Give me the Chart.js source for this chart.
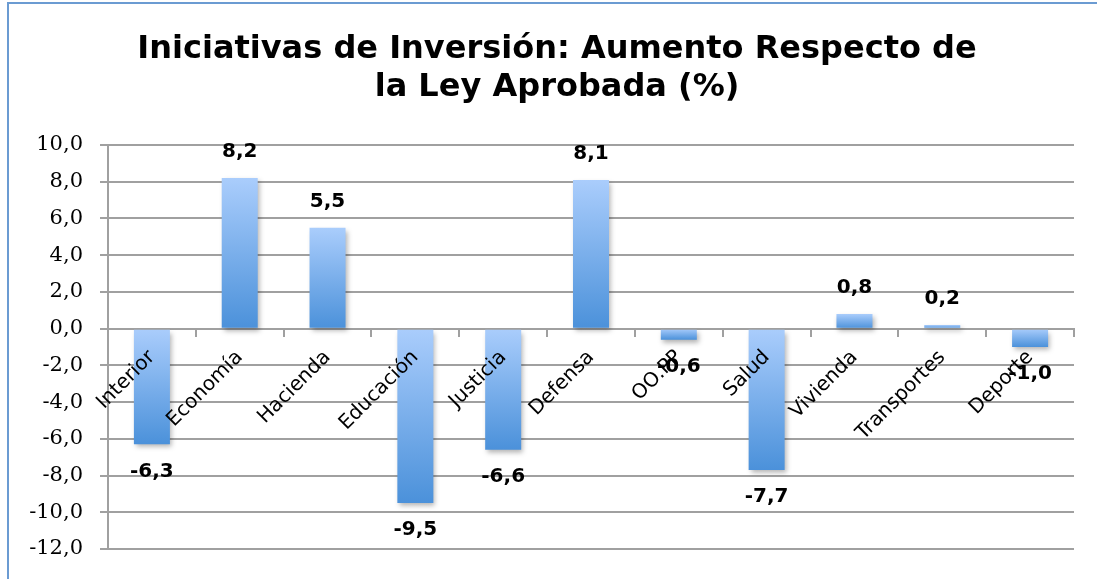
<!DOCTYPE html>
<html>
<head>
<meta charset="utf-8">
<script src="https://cdn.jsdelivr.net/npm/chart.js@4"></script>
<style>
  html, body { margin: 0; padding: 0; background: #fff; }
</style>
</head>
<body>
<canvas id="investChart" width="1097" height="579"></canvas>
<script>
const categories = ['Interior', 'Economía', 'Hacienda', 'Educación', 'Justicia', 'Defensa', 'OO.PP', 'Salud', 'Vivienda', 'Transportes', 'Deporte'];
const values = [-6.3, 8.2, 5.5, -9.5, -6.6, 8.1, -0.6, -7.7, 0.8, 0.2, -1.0];
const titleLines = ['Iniciativas de Inversión: Aumento Respecto de', 'la Ley Aprobada (%)'];

const fmt = v => v.toFixed(1).replace('.', ',');

// white background + blue frame of the chart object
const framePlugin = {
  id: 'frame',
  beforeDraw(chart) {
    const ctx = chart.ctx;
    ctx.save();
    ctx.fillStyle = '#fff';
    ctx.fillRect(0, 0, chart.width, chart.height);
    ctx.strokeStyle = '#6b9bd2';
    ctx.lineWidth = 2;
    ctx.beginPath();
    ctx.moveTo(8, chart.height);
    ctx.lineTo(8, 3);
    ctx.lineTo(chart.width, 3);
    ctx.stroke();
    ctx.restore();
  }
};

// title is centred on the whole frame, not on the plot box
const titlePlugin = {
  id: 'frameTitle',
  afterDraw(chart) {
    const ctx = chart.ctx;
    ctx.save();
    ctx.font = 'bold 32px "DejaVu Sans"';
    ctx.fillStyle = '#000';
    ctx.textAlign = 'center';
    ctx.textBaseline = 'middle';
    titleLines.forEach((line, i) => ctx.fillText(line, 557, 50 + i * 38));
    ctx.restore();
  }
};

// soft drop shadow under the bars
const shadowPlugin = {
  id: 'barShadow',
  beforeDatasetsDraw(chart) {
    const ctx = chart.ctx;
    ctx.save();
    ctx.shadowColor = 'rgba(0,0,0,0.3)';
    ctx.shadowBlur = 5;
    ctx.shadowOffsetX = 2;
    ctx.shadowOffsetY = 3;
  },
  afterDatasetsDraw(chart) {
    chart.ctx.restore();
  }
};

// value labels outside the bar end
const valueLabels = {
  id: 'valueLabels',
  afterDraw(chart) {
    const ctx = chart.ctx;
    const meta = chart.getDatasetMeta(0);
    ctx.save();
    ctx.font = 'bold 20px "DejaVu Sans"';
    ctx.fillStyle = '#000';
    ctx.textAlign = 'center';
    ctx.textBaseline = 'middle';
    meta.data.forEach((bar, i) => {
      const v = values[i];
      const y = v >= 0 ? bar.y - 26 : bar.y + 27;
      ctx.fillText(fmt(v), bar.x, y);
    });
    ctx.restore();
  }
};

function barGradient(context) {
  const chart = context.chart;
  if (!chart.chartArea) return '#7aaee8';
  const y = chart.scales.y;
  const v = context.raw;
  const top = y.getPixelForValue(Math.max(v, 0));
  const bottom = y.getPixelForValue(Math.min(v, 0));
  if (bottom - top < 1) return '#8dbcf2';
  const g = chart.ctx.createLinearGradient(0, top, 0, bottom);
  g.addColorStop(0, '#aacdfc');
  g.addColorStop(1, '#4b91da');
  return g;
}

new Chart(document.getElementById('investChart'), {
  type: 'bar',
  data: {
    labels: categories,
    datasets: [{
      data: values,
      backgroundColor: barGradient,
      borderWidth: 0,
      barPercentage: 0.41,
      categoryPercentage: 1
    }]
  },
  options: {
    responsive: false,
    animation: false,
    layout: { padding: { left: 0, right: 23, top: 145, bottom: 30 } },
    plugins: {
      legend: { display: false },
      tooltip: { enabled: false },
      title: { display: false }
    },
    scales: {
      x: {
        position: { y: 0 },
        grid: { offset: true, drawOnChartArea: false, color: '#a0a0a0', lineWidth: 2, tickLength: 7 },
        border: { color: '#a0a0a0', width: 2 },
        ticks: {
          z: 1,
          color: '#000',
          font: { family: 'DejaVu Sans', size: 20 },
          minRotation: 45,
          maxRotation: 45,
          autoSkip: false,
          padding: 10
        }
      },
      y: {
        min: -12,
        max: 10,
        afterFit(scale) { scale.width = 108; },
        grid: { color: '#a0a0a0', lineWidth: 2, tickLength: 8 },
        border: { color: '#a0a0a0', width: 2 },
        ticks: {
          stepSize: 2,
          color: '#000',
          padding: 17,
          font: { family: 'DejaVu Serif', size: 21 },
          callback: v => fmt(v)
        }
      }
    }
  },
  plugins: [framePlugin, shadowPlugin, valueLabels, titlePlugin]
});
</script>
</body>
</html>
